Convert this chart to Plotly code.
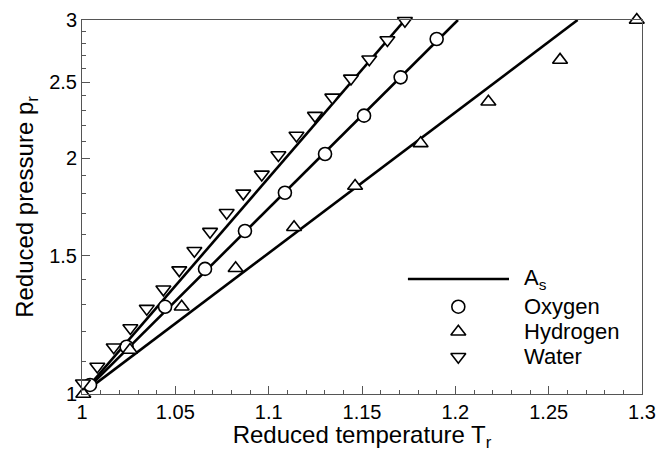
import math
import plotly.graph_objects as go

# ---- data ----
# A_s model curves (end points)
as_water_T = [1.0, 1.173]
as_water_p = [1.0, 3.0]
as_oxygen_T = [1.0, 1.2014]
as_oxygen_p = [1.0, 3.0]
as_hydrogen_T = [1.0, 1.2655]
as_hydrogen_p = [1.0, 3.0]

oxygen_T = [1.0043, 1.0239, 1.0445, 1.0659, 1.0873, 1.1087, 1.1302, 1.1511, 1.1707, 1.1900]
oxygen_p = [1.027, 1.149, 1.292, 1.444, 1.614, 1.806, 2.024, 2.265, 2.535, 2.837]

hydrogen_T = [1.0007, 1.0257, 1.0534, 1.0823, 1.1136, 1.1463, 1.1814, 1.2177, 1.2561, 1.2972]
hydrogen_p = [1.0, 1.138, 1.292, 1.447, 1.632, 1.842, 2.088, 2.360, 2.668, 3.0]

water_T = [1.0005, 1.0082, 1.0170, 1.0259, 1.0347, 1.0436, 1.0521, 1.0602, 1.0686, 1.0775,
           1.0864, 1.0963, 1.1052, 1.1149, 1.1248, 1.1341, 1.1441, 1.1539, 1.1636, 1.1730]
water_p = [1.032, 1.084, 1.147, 1.214, 1.285, 1.360, 1.439, 1.523, 1.611, 1.703,
           1.803, 1.906, 2.018, 2.137, 2.265, 2.390, 2.527, 2.673, 2.829, 2.994]

x_ticks = [1.0, 1.05, 1.1, 1.15, 1.2, 1.25, 1.3]
x_ticktext = ["1", "1.05", "1.1", "1.15", "1.2", "1.25", "1.3"]
y_ticks = [1.0, 1.5, 2.0, 2.5, 3.0]
y_ticktext = ["1", "1.5", "2", "2.5", "3"]
y_minor = [1.1, 1.2, 1.3, 1.4, 1.6, 1.7, 1.8, 1.9, 2.1, 2.2, 2.3, 2.4, 2.6, 2.7, 2.8, 2.9]

legend_names = ["Oxygen", "Hydrogen", "Water"]
legend_symbols = ["circle", "triangle-up", "triangle-down"]

FONT = "Liberation Sans, Arial, Helvetica, sans-serif"
LINE_W = 2.6
MSIZE = 13

fig = go.Figure()

for T, p in [(as_water_T, as_water_p), (as_oxygen_T, as_oxygen_p), (as_hydrogen_T, as_hydrogen_p)]:
    fig.add_trace(go.Scatter(x=T, y=p, mode="lines", line=dict(color="black", width=LINE_W),
                             showlegend=False, hoverinfo="skip"))

marker_common = dict(color="white", line=dict(color="black", width=1.6))
for T, p, sym in [(oxygen_T, oxygen_p, "circle"), (hydrogen_T, hydrogen_p, "triangle-up"),
                  (water_T, water_p, "triangle-down")]:
    fig.add_trace(go.Scatter(x=T, y=p, mode="markers", cliponaxis=False,
                             marker=dict(symbol=sym, size=MSIZE, **marker_common),
                             showlegend=False))

# custom Tecplot-style legend on an overlay axis (0..1 in plot-area fractions)
leg_x = 0.672
leg_y = [0.2334, 0.1666, 0.0997]
fig.add_trace(go.Scatter(x=[leg_x] * 3, y=leg_y, mode="markers", xaxis="x2", yaxis="y2",
                         marker=dict(symbol=legend_symbols, size=MSIZE, **marker_common),
                         showlegend=False, hoverinfo="skip", cliponaxis=False))
fig.add_shape(type="line", xref="x domain", yref="y domain", x0=0.582, x1=0.7625,
              y0=0.3075, y1=0.3075, line=dict(color="black", width=LINE_W))
text_x = 0.786
fig.add_annotation(x=text_x, y=0.3075, xref="x domain", yref="y domain", text="A<sub>s</sub>",
                   showarrow=False, xanchor="left", yanchor="middle",
                   font=dict(family=FONT, size=22, color="black"))
for name, yy in zip(legend_names, leg_y):
    fig.add_annotation(x=text_x, y=yy, xref="x domain", yref="y domain", text=name,
                       showarrow=False, xanchor="left", yanchor="middle",
                       font=dict(family=FONT, size=22, color="black"))

axis_line = "#555555"
fig.update_layout(
    width=659, height=452,
    margin=dict(l=82, r=17, t=20, b=58, autoexpand=False),
    paper_bgcolor="white", plot_bgcolor="white",
    font=dict(family=FONT, color="black"),
    showlegend=False,
    xaxis=dict(range=[1.0, 1.3], tickvals=x_ticks, ticktext=x_ticktext, automargin=False,
               ticks="inside", ticklen=8, tickwidth=1, tickcolor=axis_line,
               minor=dict(dtick=0.01, tick0=1.0, ticks="inside", ticklen=4, tickcolor=axis_line),
               showgrid=False, zeroline=False, showline=True, linecolor=axis_line, linewidth=1,
               mirror=True, tickfont=dict(size=20, family=FONT),
               title=dict(text="Reduced temperature T<sub>r</sub>", font=dict(size=24, family=FONT),
                          standoff=6)),
    yaxis=dict(type="log", range=[0, math.log10(3) + 1e-6], tickvals=y_ticks, ticktext=y_ticktext,
               automargin=False,
               ticks="inside", ticklen=8, tickwidth=1, tickcolor=axis_line,
               minor=dict(tickvals=y_minor, ticks="inside", ticklen=4, tickcolor=axis_line),
               showgrid=False, zeroline=False, showline=True, linecolor=axis_line, linewidth=1,
               mirror=True, tickfont=dict(size=20, family=FONT),
               title=dict(text="Reduced pressure p<sub>r</sub>", font=dict(size=24, family=FONT),
                          standoff=8)),
    xaxis2=dict(overlaying="x", range=[0, 1], visible=False, fixedrange=True),
    yaxis2=dict(overlaying="y", range=[0, 1], visible=False, fixedrange=True),
)

fig.write_html("out.html", config={"displayModeBar": False},
               post_script="document.body.style.margin='0';document.body.style.overflow='hidden';")
